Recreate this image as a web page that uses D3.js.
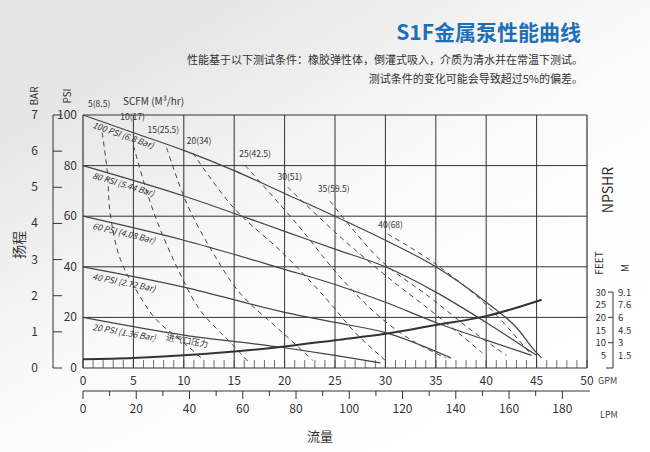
<!DOCTYPE html><html><head><meta charset="utf-8"><script src="https://cdn.jsdelivr.net/npm/d3@7"></script>
<style>body{margin:0;background:#fff}text{font-family:"Noto Sans CJK SC","Open Sans",sans-serif}</style></head><body><svg id="c" width="650" height="452"></svg>
<script>
const psiCurves=[
 {label:"100 PSI (6.8 Bar)",pts:[[0,100],[5,93],[10,86],[15,78],[20,69],[25,60],[30,50.5],[35,40],[40,26],[43,16],[45,6],[45.5,4]]},
 {label:"80 PSI (5.44 Bar)",pts:[[0,80],[10,68],[20,54],[25,47],[30,40],[35,30],[40,18],[45,5]]},
 {label:"60 PSI (4.08 Bar)",pts:[[0,60],[10,50.5],[20,39],[25,33],[30,26],[35,18],[40,11],[44.5,5]]},
 {label:"40 PSI (2.72 Bar)",pts:[[0,40],[10,32],[20,22],[25,18],[30,14],[36.5,4]]},
 {label:"20 PSI (1.36 Bar)",pts:[[0,20],[10,13],[20,8],[25,5],[29.5,2]]}];
const npshr=[[0,3.5],[5,4],[10,5],[15,6.5],[20,8.5],[25,11],[30,13.5],[35,17],[40,20.5],[45.5,27]];
const scfm=[
 {label:"5(8.5)",at:[0.5,103],pts:[[1.9,93],[2.4,78],[2.7,61],[3.7,43],[5.7,28],[7.3,19],[10,10],[12,3]]},
 {label:"10(17)",at:[3.7,98],pts:[[5,88],[6,74],[7.3,58.5],[9.6,37.5],[11.6,23],[15,8.5],[16.5,2]]},
 {label:"15(25.5)",at:[6.4,93],pts:[[8.3,87],[10.3,65],[12.9,45.5],[15.6,29.5],[19.8,14],[22.8,3]]},
 {label:"20(34)",at:[10.3,88.5],pts:[[10.9,85],[14.9,63.5],[19.8,45.5],[24,28],[27,14],[30,3]]},
 {label:"25(42.5)",at:[15.5,83.5],pts:[[16.1,80],[21.2,57],[25.5,36],[29.5,20],[33,10],[36,4]]},
 {label:"30(51)",at:[19.3,74.5],pts:[[20.3,71.5],[25.2,53],[30.2,36],[34.4,23],[37.5,13],[39.6,6]]},
 {label:"35(59.5)",at:[23.3,69.5],pts:[[24.5,66],[29.5,42.7],[34.4,28],[38.5,15],[42,5]]},
 {label:"40(68)",at:[29.3,55.5],pts:[[30.2,53],[34.4,42.7],[40,25],[44.3,6]]}];
const gpmTicks=d3.range(0,51,5), psiTicks=[0,20,40,60,80,100], barTicks=d3.range(0,8);
const feetTicks=[5,10,15,20,25,30], mLabels=["1.5","3","4.5","6","7.6","9.1"], lpmTicks=d3.range(0,181,20);

const svg=d3.select("#c");
const defs=svg.append("defs");
const g=defs.append("linearGradient").attr("id","bg").attr("x1","0").attr("y1","0.3").attr("x2","0.6").attr("y2","1");
g.append("stop").attr("offset","0").attr("stop-color","#e6e6e6");g.append("stop").attr("offset","0.5").attr("stop-color","#fafafa");g.append("stop").attr("offset","1").attr("stop-color","#fff");
svg.append("rect").attr("width",650).attr("height",452).attr("fill","url(#bg)");
const x=d3.scaleLinear([0,50],[83,587]), y=d3.scaleLinear([0,100],[368,115]);
const yb=d3.scaleLinear([0,7],[368,115]);
const col="#333";
gpmTicks.forEach(v=>svg.append("line").attr("x1",x(v)).attr("x2",x(v)).attr("y1",115).attr("y2",368).attr("stroke",col).attr("stroke-width",v==0||v==50?1.2:1));
psiTicks.forEach(v=>svg.append("line").attr("x1",83).attr("x2",587).attr("y1",y(v)).attr("y2",y(v)).attr("stroke",col).attr("stroke-width",1));
d3.range(0,51).forEach(v=>svg.append("line").attr("x1",x(v)).attr("x2",x(v)).attr("y1",368).attr("y2",360).attr("stroke",col).attr("stroke-width",0.7));
gpmTicks.forEach(v=>svg.append("text").attr("x",x(v)).attr("y",385).attr("text-anchor","middle").attr("font-size",12).attr("fill","#333").text(v));
svg.append("text").attr("x",598).attr("y",384).attr("font-size",9).attr("fill","#444").text("GPM");
psiTicks.forEach(v=>svg.append("text").attr("x",77).attr("y",y(v)+4).attr("text-anchor","end").attr("font-size",12).attr("fill","#333").text(v));
svg.append("line").attr("x1",53).attr("x2",53).attr("y1",yb(7)).attr("y2",yb(0)).attr("stroke",col);
barTicks.forEach(v=>{svg.append("line").attr("x1",53).attr("x2",62).attr("y1",yb(v)).attr("y2",yb(v)).attr("stroke",col);
 svg.append("text").attr("x",38).attr("y",yb(v)+4).attr("text-anchor","end").attr("font-size",12).attr("fill","#333").text(v);});
const rot=(t,xx,yy,fs,w)=>svg.append("text").attr("transform",`translate(${xx},${yy}) rotate(-90)`).attr("text-anchor","middle").attr("font-size",fs).attr("fill","#333").attr("font-weight",w||400).text(t);
rot("BAR",38,96,10);rot("PSI",71,96,10);rot("扬程",24,245,14);rot("NPSHR",613,190,14);rot("FEET",603,263,10);rot("M",629,268,10);
svg.append("text").attr("x",123).attr("y",105).attr("font-size",10).attr("fill","#333").text("SCFM (M³/hr)");
svg.append("line").attr("x1",613).attr("x2",613).attr("y1",y(30)).attr("y2",y(0)).attr("stroke",col);
svg.append("line").attr("x1",606).attr("x2",613).attr("y1",y(0)).attr("y2",y(0)).attr("stroke",col);
feetTicks.forEach((v,i)=>{svg.append("text").attr("x",606).attr("y",y(v)+3.5).attr("text-anchor","end").attr("font-size",9.5).attr("fill","#333").text(v);
 if(v%10==0)svg.append("line").attr("x1",608).attr("x2",613).attr("y1",y(v)).attr("y2",y(v)).attr("stroke",col);
 svg.append("text").attr("x",618).attr("y",y(v)+3.5).attr("font-size",9.5).attr("fill","#333").text(mLabels[i]);});
const xl=d3.scaleLinear([0,189.27],[83,587]);
svg.append("line").attr("x1",83).attr("x2",590).attr("y1",391).attr("y2",391).attr("stroke",col);
d3.range(0,190,10).forEach(v=>svg.append("line").attr("x1",xl(v)).attr("x2",xl(v)).attr("y1",391).attr("y2",v%20==0?399:396).attr("stroke",col));
lpmTicks.forEach(v=>svg.append("text").attr("x",xl(v)).attr("y",413).attr("text-anchor","middle").attr("font-size",12).attr("fill","#333").text(v));
svg.append("text").attr("x",600).attr("y",418).attr("font-size",9).attr("fill","#444").text("LPM");
svg.append("text").attr("x",320).attr("y",441).attr("text-anchor","middle").attr("font-size",13).attr("fill","#333").text("流量");
const line=d3.line().x(d=>x(d[0])).y(d=>y(d[1])).curve(d3.curveMonotoneX);
const lineD=d3.line().x(d=>x(d[0])).y(d=>y(d[1])).curve(d3.curveCatmullRom);
scfm.forEach(s=>svg.append("path").attr("d",lineD(s.pts)).attr("fill","none").attr("stroke","#444").attr("stroke-width",1).attr("stroke-dasharray","5,4"));
psiCurves.forEach(s=>svg.append("path").attr("d",line(s.pts)).attr("fill","none").attr("stroke","#444").attr("stroke-width",1.2));
svg.append("path").attr("d",line(npshr)).attr("fill","none").attr("stroke","#333").attr("stroke-width",2);
psiCurves.forEach(s=>{const [a,b]=s.pts;const ang=Math.atan2(y(b[1])-y(a[1]),x(b[0])-x(a[0]))*180/Math.PI;
 svg.append("text").attr("transform",`translate(${x(0.9)},${y(a[1]-1.8)+8}) rotate(${ang})`).attr("font-size",8.5).attr("fill","#333").attr("font-style","italic").text(s.label);});
svg.append("text").attr("transform",`translate(${x(8.2)},${y(11)}) rotate(10)`).attr("font-size",8.5).attr("fill","#333").text("进气口压力");
scfm.forEach(s=>svg.append("text").attr("x",x(s.at[0])).attr("y",y(s.at[1])).attr("font-size",8.5).attr("fill","#333").text(s.label));
svg.append("text").attr("x",581).attr("y",40).attr("text-anchor","end").attr("font-size",21).attr("font-weight",700).attr("fill","#1d6fb8").text("S1F金属泵性能曲线");
svg.append("text").attr("x",583).attr("y",64).attr("text-anchor","end").attr("font-size",11).attr("fill","#333").text("性能基于以下测试条件：橡胶弹性体，倒灌式吸入，介质为清水并在常温下测试。");
svg.append("text").attr("x",583).attr("y",83).attr("text-anchor","end").attr("font-size",11).attr("fill","#333").text("测试条件的变化可能会导致超过5%的偏差。");
</script></body></html>
